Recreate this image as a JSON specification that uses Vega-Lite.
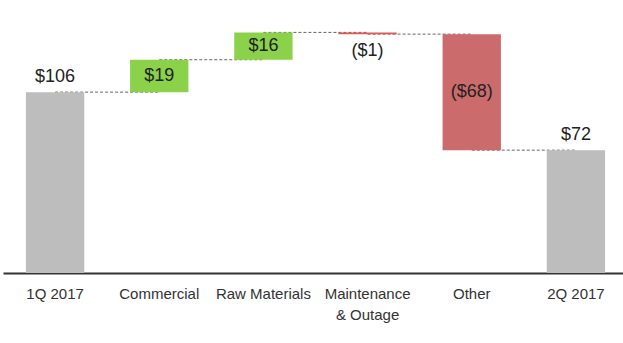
{
  "$schema": "https://vega.github.io/schema/vega-lite/v6.json",
  "width": 625,
  "height": 273,
  "autosize": "none",
  "padding": {"left": 3, "top": 0, "right": 0, "bottom": 70},
  "background": "white",
  "config": {"view": {"stroke": null}, "font": "Liberation Sans"},
  "datasets": {
    "steps": [
      {"category": "1Q 2017", "start": 0, "end": 106, "kind": "total", "label": "$106"},
      {"category": "Commercial", "start": 106, "end": 125, "kind": "increase", "label": "$19"},
      {"category": "Raw Materials", "start": 125, "end": 141, "kind": "increase", "label": "$16"},
      {"category": "Maintenance & Outage", "start": 141, "end": 140, "kind": "small", "label": "($1)"},
      {"category": "Other", "start": 140, "end": 72, "kind": "decrease", "label": "($68)"},
      {"category": "2Q 2017", "start": 0, "end": 72, "kind": "total", "label": "$72"}
    ],
    "links": [
      {"category": "1Q 2017", "to": "Commercial", "level": 106},
      {"category": "Commercial", "to": "Raw Materials", "level": 125},
      {"category": "Raw Materials", "to": "Maintenance & Outage", "level": 141},
      {"category": "Maintenance & Outage", "to": "Other", "level": 140},
      {"category": "Other", "to": "2Q 2017", "level": 72}
    ]
  },
  "encoding": {
    "x": {
      "field": "category", "type": "nominal", "sort": null,
      "scale": {"paddingInner": 0.44, "paddingOuter": 0.22},
      "axis": {
        "title": null, "labelAngle": 0, "ticks": false,
        "domainColor": "#333333", "domainWidth": 2,
        "labelColor": "#333333", "labelFontSize": 15, "labelPadding": 20,
        "labelLineHeight": 21, "labelBaseline": "middle",
        "labelExpr": "datum.value == 'Maintenance & Outage' ? ['Maintenance', '& Outage'] : datum.value"
      }
    }
  },
  "layer": [
    {
      "data": {"name": "links"},
      "mark": {"type": "rule", "color": "#666666", "strokeDash": [3, 2], "strokeWidth": 1},
      "encoding": {
        "x2": {"field": "to"},
        "y": {"field": "level", "type": "quantitative", "scale": {"domain": [0, 159]}, "axis": null}
      }
    },
    {
      "data": {"name": "steps"},
      "mark": {"type": "bar"},
      "encoding": {
        "y": {"field": "start", "type": "quantitative"},
        "y2": {"field": "end"},
        "color": {
          "field": "kind", "type": "nominal", "legend": null,
          "scale": {"domain": ["total", "increase", "small", "decrease"], "range": ["#bdbdbd", "#8bd14a", "#e05a52", "#cc6b6b"]}
        }
      }
    },
    {
      "data": {"name": "steps"},
      "transform": [{"filter": "datum.kind == 'total'"}],
      "mark": {"type": "text", "fontSize": 18, "color": "#222222", "dy": -15},
      "encoding": {
        "y": {"field": "end", "type": "quantitative"},
        "text": {"field": "label"}
      }
    },
    {
      "data": {"name": "steps"},
      "transform": [{"filter": "datum.kind == 'increase' || datum.kind == 'decrease'"}, {"calculate": "(datum.start + datum.end) / 2", "as": "mid"}],
      "mark": {"type": "text", "fontSize": 18, "color": "#222222"},
      "encoding": {
        "y": {"field": "mid", "type": "quantitative"},
        "text": {"field": "label"}
      }
    },
    {
      "data": {"name": "steps"},
      "transform": [{"filter": "datum.kind == 'small'"}],
      "mark": {"type": "text", "fontSize": 18, "color": "#222222", "dy": 17},
      "encoding": {
        "y": {"field": "end", "type": "quantitative"},
        "text": {"field": "label"}
      }
    }
  ]
}
